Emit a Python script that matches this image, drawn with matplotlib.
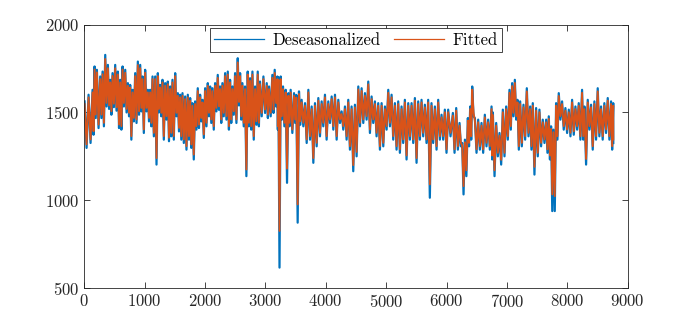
import numpy as np
import matplotlib.pyplot as plt

plt.rcParams['font.family'] = 'serif'
plt.rcParams['font.serif'] = ['cmr10']
plt.rcParams['mathtext.fontset'] = 'cm'
plt.rcParams['axes.formatter.use_mathtext'] = True

# sample index of each reading, with the local high / low of each series there
t = np.array([
    6, 72, 138, 171, 210, 265, 304, 348, 392, 431,
    469, 513, 557, 596, 635, 679, 723, 761, 800, 844,
    888, 927, 965, 1009, 1053, 1092, 1131, 1175, 1219, 1257,
    1296, 1340, 1384, 1423, 1461, 1506, 1550, 1588, 1627, 1671,
    1715, 1754, 1792, 1836, 1880, 1919, 1958, 2002, 2046, 2085,
    2123, 2167, 2211, 2250, 2288, 2333, 2377, 2415, 2454, 2498,
    2542, 2581, 2619, 2663, 2707, 2746, 2785, 2829, 2873, 2911,
    2967, 3022, 3060, 3115, 3154, 3198, 3214, 3253, 3292, 3336,
    3380, 3418, 3474, 3512, 3556, 3600, 3656, 3711, 3766, 3821,
    3876, 3931, 3986, 4041, 4097, 4152, 4207, 4262, 4317, 4372,
    4427, 4482, 4538, 4593, 4648, 4703, 4758, 4813, 4868, 4924,
    4979, 5034, 5089, 5144, 5199, 5254, 5309, 5365, 5420, 5475,
    5530, 5585, 5640, 5695, 5750, 5806, 5861, 5916, 5971, 6026,
    6104, 6159, 6214, 6258, 6303, 6352, 6391, 6424, 6468, 6523,
    6578, 6633, 6688, 6744, 6766, 6821, 6876, 6931, 6986, 7041,
    7085, 7130, 7174, 7218, 7273, 7328, 7383, 7427, 7482, 7537,
    7592, 7648, 7692, 7730, 7769, 7813, 7857, 7912, 7967, 8023,
    8078, 8133, 8188, 8243, 8282, 8337, 8392, 8447, 8502, 8557,
    8612, 8668, 8723, 8759])

des_hi = [
    1563, 1601, 1629, 1762, 1743, 1705, 1733, 1828, 1771, 1686,
    1724, 1771, 1733, 1686, 1762, 1743, 1667, 1657, 1629, 1724,
    1790, 1771, 1705, 1743, 1629, 1629, 1705, 1705, 1724, 1657,
    1686, 1667, 1676, 1648, 1686, 1724, 1610, 1601, 1610, 1591,
    1601, 1582, 1553, 1563, 1638, 1601, 1572, 1638, 1667, 1648,
    1638, 1667, 1714, 1648, 1667, 1724, 1733, 1686, 1648, 1724,
    1809, 1724, 1667, 1648, 1733, 1695, 1733, 1648, 1733, 1676,
    1705, 1667, 1648, 1714, 1743, 1705, 1700, 1705, 1648, 1629,
    1610, 1629, 1610, 1600, 1620, 1572, 1553, 1629, 1534, 1553,
    1582, 1563, 1601, 1563, 1591, 1601, 1572, 1506, 1534, 1572,
    1534, 1544, 1648, 1638, 1610, 1676, 1591, 1563, 1553, 1553,
    1534, 1629, 1601, 1553, 1563, 1534, 1572, 1553, 1553, 1582,
    1563, 1572, 1544, 1572, 1553, 1534, 1572, 1487, 1516, 1516,
    1497, 1525, 1440, 1326, 1345, 1468, 1534, 1648, 1468, 1459,
    1440, 1487, 1459, 1534, 1500, 1440, 1383, 1516, 1534, 1629,
    1667, 1686, 1572, 1563, 1544, 1638, 1534, 1553, 1525, 1516,
    1459, 1459, 1478, 1421, 1402, 1553, 1610, 1563, 1525, 1516,
    1572, 1534, 1553, 1629, 1534, 1572, 1544, 1563, 1638, 1534,
    1553, 1582, 1563, 1553]
des_lo = [
    1298, 1326, 1373, 1468, 1411, 1468, 1421, 1534, 1520, 1487,
    1530, 1510, 1411, 1402, 1534, 1500, 1478, 1345, 1449, 1440,
    1487, 1506, 1383, 1506, 1449, 1421, 1364, 1203, 1500, 1478,
    1345, 1459, 1336, 1364, 1345, 1478, 1392, 1345, 1326, 1288,
    1345, 1298, 1232, 1402, 1411, 1449, 1355, 1421, 1478, 1440,
    1402, 1506, 1515, 1440, 1478, 1459, 1402, 1440, 1487, 1440,
    1540, 1459, 1421, 1137, 1421, 1402, 1345, 1430, 1421, 1478,
    1497, 1468, 1478, 1497, 1534, 1402, 616, 1459, 1421, 1099,
    1421, 1383, 1440, 872, 1430, 1421, 1326, 1345, 1213, 1307,
    1364, 1421, 1345, 1440, 1402, 1345, 1440, 1402, 1345, 1288,
    1165, 1250, 1421, 1440, 1459, 1383, 1440, 1364, 1288, 1307,
    1402, 1421, 1345, 1288, 1270, 1326, 1232, 1345, 1326, 1213,
    1345, 1364, 1326, 1014, 1326, 1288, 1345, 1345, 1270, 1364,
    1270, 1288, 1307, 1033, 1137, 1307, 1345, 1478, 1270, 1288,
    1270, 1307, 1288, 1232, 1137, 1250, 1203, 1250, 1345, 1402,
    1478, 1459, 1288, 1307, 1345, 1364, 1288, 1146, 1250, 1307,
    1326, 1270, 1232, 938, 938, 1345, 1459, 1402, 1383, 1364,
    1373, 1402, 1345, 1345, 1203, 1402, 1288, 1345, 1364, 1345,
    1383, 1345, 1288, 1326]
fit_hi = [
    1548, 1586, 1614, 1745, 1728, 1690, 1718, 1805, 1752, 1671,
    1708, 1752, 1716, 1671, 1745, 1726, 1652, 1642, 1614, 1707,
    1770, 1752, 1690, 1726, 1614, 1614, 1690, 1690, 1707, 1642,
    1671, 1652, 1661, 1633, 1671, 1707, 1595, 1586, 1595, 1576,
    1586, 1567, 1538, 1548, 1622, 1586, 1557, 1622, 1652, 1633,
    1622, 1652, 1697, 1633, 1652, 1707, 1716, 1671, 1633, 1707,
    1785, 1707, 1652, 1633, 1716, 1680, 1716, 1633, 1716, 1661,
    1690, 1652, 1633, 1697, 1725, 1690, 1685, 1690, 1633, 1614,
    1595, 1614, 1595, 1585, 1605, 1557, 1538, 1614, 1519, 1538,
    1567, 1548, 1586, 1548, 1576, 1586, 1557, 1491, 1519, 1557,
    1519, 1529, 1631, 1622, 1595, 1660, 1576, 1548, 1538, 1538,
    1519, 1612, 1586, 1538, 1548, 1519, 1557, 1538, 1538, 1567,
    1548, 1557, 1529, 1557, 1538, 1519, 1557, 1472, 1501, 1501,
    1482, 1510, 1425, 1311, 1330, 1453, 1519, 1630, 1453, 1444,
    1425, 1472, 1444, 1519, 1485, 1425, 1368, 1501, 1519, 1612,
    1650, 1668, 1557, 1548, 1529, 1620, 1519, 1538, 1510, 1501,
    1444, 1444, 1463, 1406, 1387, 1538, 1594, 1548, 1510, 1501,
    1557, 1519, 1538, 1612, 1519, 1557, 1529, 1548, 1620, 1519,
    1538, 1567, 1548, 1538]
fit_lo = [
    1318, 1346, 1393, 1488, 1431, 1488, 1441, 1554, 1540, 1507,
    1550, 1530, 1431, 1422, 1554, 1520, 1498, 1365, 1469, 1460,
    1507, 1526, 1403, 1526, 1469, 1441, 1384, 1240, 1520, 1498,
    1365, 1479, 1356, 1384, 1365, 1498, 1412, 1365, 1346, 1308,
    1365, 1318, 1260, 1422, 1431, 1469, 1375, 1441, 1498, 1460,
    1422, 1526, 1535, 1460, 1498, 1479, 1422, 1460, 1507, 1460,
    1560, 1479, 1441, 1175, 1441, 1422, 1365, 1450, 1441, 1498,
    1517, 1488, 1498, 1517, 1554, 1422, 825, 1479, 1441, 1180,
    1441, 1403, 1460, 976, 1450, 1441, 1346, 1365, 1240, 1327,
    1384, 1441, 1365, 1460, 1422, 1365, 1460, 1422, 1365, 1308,
    1200, 1275, 1441, 1460, 1479, 1403, 1460, 1384, 1308, 1327,
    1422, 1441, 1365, 1308, 1290, 1346, 1255, 1365, 1346, 1240,
    1365, 1384, 1346, 1090, 1346, 1308, 1365, 1365, 1290, 1384,
    1290, 1308, 1327, 1080, 1170, 1327, 1365, 1498, 1290, 1308,
    1290, 1327, 1308, 1255, 1170, 1270, 1230, 1270, 1365, 1422,
    1498, 1479, 1308, 1327, 1365, 1384, 1308, 1190, 1270, 1327,
    1346, 1290, 1255, 1033, 1023, 1365, 1479, 1422, 1403, 1384,
    1393, 1422, 1365, 1365, 1235, 1422, 1308, 1365, 1384, 1365,
    1403, 1365, 1308, 1346]


def zigzag(hi, lo):
    # each high at its reading, the low halfway to the next reading
    t_lo = np.append((t[:-1] + t[1:]) / 2, t[-1] + 1)
    x = np.column_stack([t, t_lo]).ravel()
    y = np.column_stack([hi, lo]).ravel()
    return x, y


fig = plt.figure(figsize=(6.96, 3.25), dpi=100)
ax = fig.add_axes([0.121, 0.114, 0.781, 0.81])

xd, yd = zigzag(des_hi, des_lo)
xf, yf = zigzag(fit_hi, fit_lo)
ax.plot(xd, yd, color='#0072BD', lw=1.6, label='Deseasonalized')
ax.plot(xf, yf, color='#D95319', lw=1.35, label='Fitted')

ax.set_xlim(0, 9000)
ax.set_ylim(500, 2000)
ax.set_xticks(np.arange(0, 9001, 1000))
ax.set_yticks([500, 1000, 1500, 2000])
ax.tick_params(direction='in', top=True, right=True, length=4,
               width=0.6, colors='0.15', labelsize=12, labelcolor='0.15')
for s in ax.spines.values():
    s.set_linewidth(0.6)
    s.set_color('0.15')

leg = ax.legend(loc='upper center', ncol=2, fontsize=12, handlelength=3.0,
                fancybox=False, framealpha=1, edgecolor='0.15',
                borderaxespad=0.2, borderpad=0.25, columnspacing=0.8,
                handletextpad=0.5)
for line in leg.get_lines():
    line.set_linewidth(0.9)
leg.get_frame().set_linewidth(0.6)

fig.savefig('out.png', dpi=100)
